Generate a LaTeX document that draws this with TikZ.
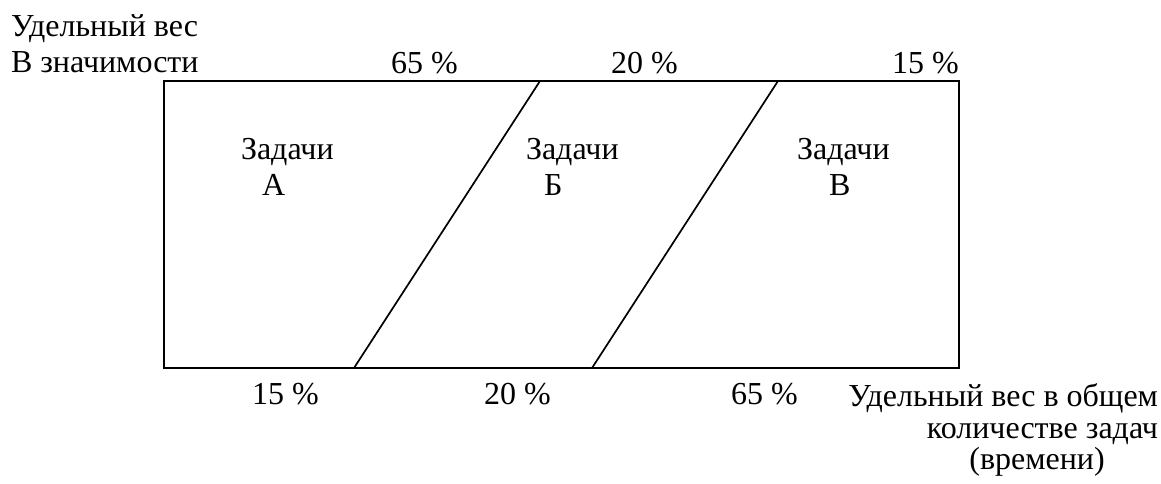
\documentclass[tikz,border=0pt]{standalone}
\usepackage{fontspec}
\setmainfont{Liberation Serif}
\begin{document}
\begin{tikzpicture}[x=1pt,y=-1pt,
  lbl/.style={inner sep=0pt,outer sep=0pt,anchor=base west,font=\fontsize{32}{38}\selectfont},
  frame/.style={line width=2.2pt},
  divider/.style={line width=1.7pt}]
\useasboundingbox (0,0) rectangle (1161,484);
% frame corners
\coordinate (tl) at (164,81);
\coordinate (br) at (959,368);
\coordinate (d1t) at (540,81);
\coordinate (d1b) at (354,368);
\coordinate (d2t) at (778,81);
\coordinate (d2b) at (592,368);
\draw[frame] (tl) rectangle (br);
\draw[divider] (d1t) -- (d1b);
\draw[divider] (d2t) -- (d2b);
% top labels
\node[lbl] (ylab1) at (11,37) {Удельный вес};
\node[lbl] (ylab2) at (11,73) {В значимости};
\node[lbl] (t65) at (391,74) {65 \%};
\node[lbl] (t20) at (611,74) {20 \%};
\node[lbl] (t15) at (892,74) {15 \%};
% inner labels
\node[lbl] (za) at (241,159) {Задачи};
\node[lbl] (la) at (262,195) {А};
\node[lbl] (zb) at (526,159) {Задачи};
\node[lbl] (lb) at (544,195) {Б};
\node[lbl] (zv) at (797,159) {Задачи};
\node[lbl] (lv) at (829,195) {В};
% bottom labels
\node[lbl] (b15) at (252,404) {15 \%};
\node[lbl] (b20) at (484,404) {20 \%};
\node[lbl] (b65) at (731,404) {65 \%};
\node[lbl,anchor=base east] (xlab1) at (1158,406) {Удельный вес в общем};
\node[lbl,anchor=base east] (xlab2) at (1158,438) {количестве задач};
\node[lbl,anchor=base] (xlab3) at (1037,469) {(времени)};
\end{tikzpicture}
\end{document}
